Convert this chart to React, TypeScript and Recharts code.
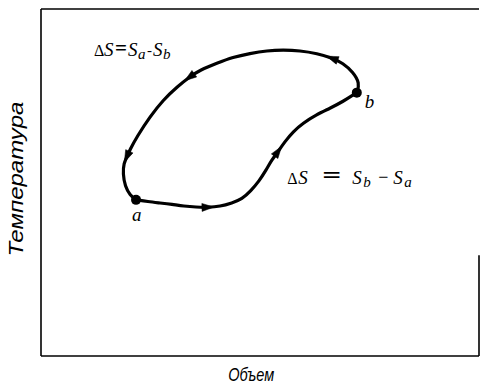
import React from 'react';
import {
  ComposedChart,
  Line,
  Scatter,
  XAxis,
  YAxis,
  ReferenceLine,
} from 'recharts';

// Path a -> b (lower branch), volume v / temperature t in arbitrary units (0..100)
const lowerPath = [
  { v: 21.7, t: 45.0 },
  { v: 24.4, t: 44.5 },
  { v: 27.2, t: 44.1 },
  { v: 29.9, t: 43.7 },
  { v: 32.6, t: 43.2 },
  { v: 35.4, t: 42.9 },
  { v: 38.1, t: 42.8 },
  { v: 40.9, t: 43.1 },
  { v: 43.6, t: 44.1 },
  { v: 45.9, t: 45.2 },
  { v: 47.9, t: 47.6 },
  { v: 49.8, t: 50.4 },
  { v: 51.4, t: 53.6 },
  { v: 52.7, t: 56.5 },
  { v: 54.1, t: 58.9 },
  { v: 55.7, t: 61.8 },
  { v: 57.5, t: 64.6 },
  { v: 59.8, t: 67.1 },
  { v: 62.8, t: 69.5 },
  { v: 66.0, t: 71.4 },
  { v: 68.9, t: 73.3 },
  { v: 72.1, t: 75.9 },
];
const lowerArrows = [6, 14];

// Path b -> a (upper branch)
const upperPath = [
  { v: 72.1, t: 75.9 },
  { v: 72.8, t: 78.6 },
  { v: 71.2, t: 81.9 },
  { v: 68.9, t: 84.4 },
  { v: 66.7, t: 85.8 },
  { v: 63.0, t: 87.2 },
  { v: 59.1, t: 88.0 },
  { v: 55.3, t: 88.2 },
  { v: 51.6, t: 88.0 },
  { v: 47.7, t: 87.2 },
  { v: 43.8, t: 86.1 },
  { v: 40.2, t: 84.4 },
  { v: 36.3, t: 82.4 },
  { v: 34.0, t: 80.5 },
  { v: 31.1, t: 77.6 },
  { v: 27.9, t: 73.8 },
  { v: 24.9, t: 69.0 },
  { v: 21.9, t: 63.2 },
  { v: 20.3, t: 59.4 },
  { v: 19.6, t: 57.4 },
  { v: 18.9, t: 55.5 },
  { v: 18.7, t: 52.6 },
  { v: 19.2, t: 48.8 },
  { v: 20.3, t: 46.4 },
  { v: 21.7, t: 45.0 },
];
const upperArrows = [4, 13, 19];

const statePoints = [
  { v: 21.7, t: 45.0, name: 'a' },
  { v: 72.1, t: 75.9, name: 'b' },
];

const equations = [
  { v: 12.1, t: 86.5, name: 'ab' },
  { v: 56.2, t: 49.6, name: 'ba' },
];

const xLabel = 'Объем';
const yLabel = 'Температура';

const makeArrowDot = (arrowIdx: number[]) => (props: any) => {
  const { cx, cy, index, points } = props;
  if (!arrowIdx.includes(index) || cx == null || cy == null) {
    return <g key={`d-${index}`} />;
  }
  let angle = 0;
  let x = cx;
  let y = cy;
  if (points && points[index - 1] && points[index + 1]) {
    const p0 = points[index - 1];
    const p1 = points[index + 1];
    angle = (Math.atan2(p1.y - p0.y, p1.x - p0.x) * 180) / Math.PI;
    x = (p0.x + 4 * cx + p1.x) / 6;
    y = (p0.y + 4 * cy + p1.y) / 6;
  }
  return (
    <polygon
      key={`d-${index}`}
      points="6,0 -6,-4 -6,4"
      fill="#000"
      stroke="#000"
      strokeWidth={0.5}
      transform={`translate(${x},${y}) rotate(${angle})`}
    />
  );
};

const StateDot = (props: any) => {
  const { cx, cy, payload } = props;
  const isA = payload.name === 'a';
  return (
    <g>
      <circle cx={cx} cy={cy} r={5} fill="#000" />
      <text
        x={isA ? cx - 4 : cx + 8}
        y={isA ? cy + 21 : cy + 15}
        fontFamily="Liberation Serif"
        fontStyle="italic"
        fontSize={19}
        fill="#000"
      >
        {payload.name}
      </text>
    </g>
  );
};

const EquationLabel = (props: any) => {
  const { cx, cy, payload } = props;
  const first = payload.name === 'ab';
  const s1 = first ? 'a' : 'b';
  const s2 = first ? 'b' : 'a';
  // horizontal offsets of the pieces, from the reference layout
  const o = first
    ? [0, 10, 21, 34, 44, 53, 59, 69]
    : [0, 11, 35, 65, 76, 91, 106, 117];
  const common = { fontFamily: 'Liberation Serif', fill: '#000' };
  return (
    <g>
      <text x={cx + o[0]} y={cy} fontSize={16} {...common}>Δ</text>
      <text x={cx + o[1]} y={cy} fontSize={19} fontStyle="italic" {...common}>S</text>
      <text
        x={cx + o[2]}
        y={cy - 1}
        fontSize={first ? 20 : 24}
        fontWeight="bold"
        {...common}
        textLength={first ? 12 : 19}
        lengthAdjust="spacingAndGlyphs"
      >
        =
      </text>
      <text x={cx + o[3]} y={cy} fontSize={19} fontStyle="italic" {...common}>S</text>
      <text x={cx + o[4]} y={cy + 3} fontSize={15} fontStyle="italic" {...common}>{s1}</text>
      <text x={cx + o[5]} y={cy - 1} fontSize={first ? 15 : 18} {...common}>{first ? '-' : '−'}</text>
      <text x={cx + o[6]} y={cy} fontSize={19} fontStyle="italic" {...common}>S</text>
      <text x={cx + o[7]} y={cy + 3} fontSize={15} fontStyle="italic" {...common}>{s2}</text>
    </g>
  );
};

const XTitle = (props: any) => {
  const vb = props.viewBox || { x: 41, y: 356, width: 438, height: 29 };
  return (
    <text
      x={vb.x + vb.width * 0.48}
      y={vb.y + 25}
      textAnchor="middle"
      fontFamily="Liberation Sans"
      fontStyle="italic"
      fontSize={18}
      fill="#000"
      textLength={46}
      lengthAdjust="spacingAndGlyphs"
    >
      {xLabel}
    </text>
  );
};

const YTitle = (props: any) => {
  const vb = props.viewBox || { x: 0, y: 9, width: 41, height: 347 };
  const cx = vb.x + 23;
  const cy = vb.y + vb.height * 0.49;
  return (
    <text
      x={cx}
      y={cy}
      textAnchor="middle"
      fontFamily="Liberation Sans"
      fontStyle="italic"
      fontSize={20}
      fill="#000"
      textLength={155}
      lengthAdjust="spacingAndGlyphs"
      transform={`rotate(-90, ${cx}, ${cy})`}
    >
      {yLabel}
    </text>
  );
};

export default function App() {
  return (
    <div style={{ position: 'absolute', left: 0, top: 0, background: '#fff' }}>
      <ComposedChart
        width={480}
        height={385}
        margin={{ top: 9, right: 1, left: 0, bottom: 0 }}
      >
        <XAxis
          type="number"
          dataKey="v"
          domain={[0, 100]}
          allowDataOverflow
          height={29}
          tick={false}
          tickLine={false}
          axisLine={{ stroke: '#000', strokeWidth: 1.6 }}
          label={{ content: XTitle }}
        />
        <YAxis
          type="number"
          dataKey="t"
          domain={[0, 100]}
          allowDataOverflow
          width={41}
          tick={false}
          tickLine={false}
          axisLine={{ stroke: '#000', strokeWidth: 1.6 }}
          label={{ content: YTitle }}
        />
        <ReferenceLine y={100} stroke="#000" strokeWidth={1.6} />
        <ReferenceLine
          segment={[
            { x: 100, y: 0 },
            { x: 100, y: 29 },
          ]}
          stroke="#000"
          strokeWidth={1.6}
        />
        <Line
          data={lowerPath}
          dataKey="t"
          type="basis"
          stroke="#000"
          strokeWidth={3.2}
          dot={makeArrowDot(lowerArrows)}
          activeDot={false}
          isAnimationActive={false}
        />
        <Line
          data={upperPath}
          dataKey="t"
          type="basis"
          stroke="#000"
          strokeWidth={3.2}
          dot={makeArrowDot(upperArrows)}
          activeDot={false}
          isAnimationActive={false}
        />
        <Scatter
          data={statePoints}
          dataKey="t"
          shape={StateDot}
          isAnimationActive={false}
        />
        <Scatter
          data={equations}
          dataKey="t"
          shape={EquationLabel}
          isAnimationActive={false}
        />
      </ComposedChart>
    </div>
  );
}
